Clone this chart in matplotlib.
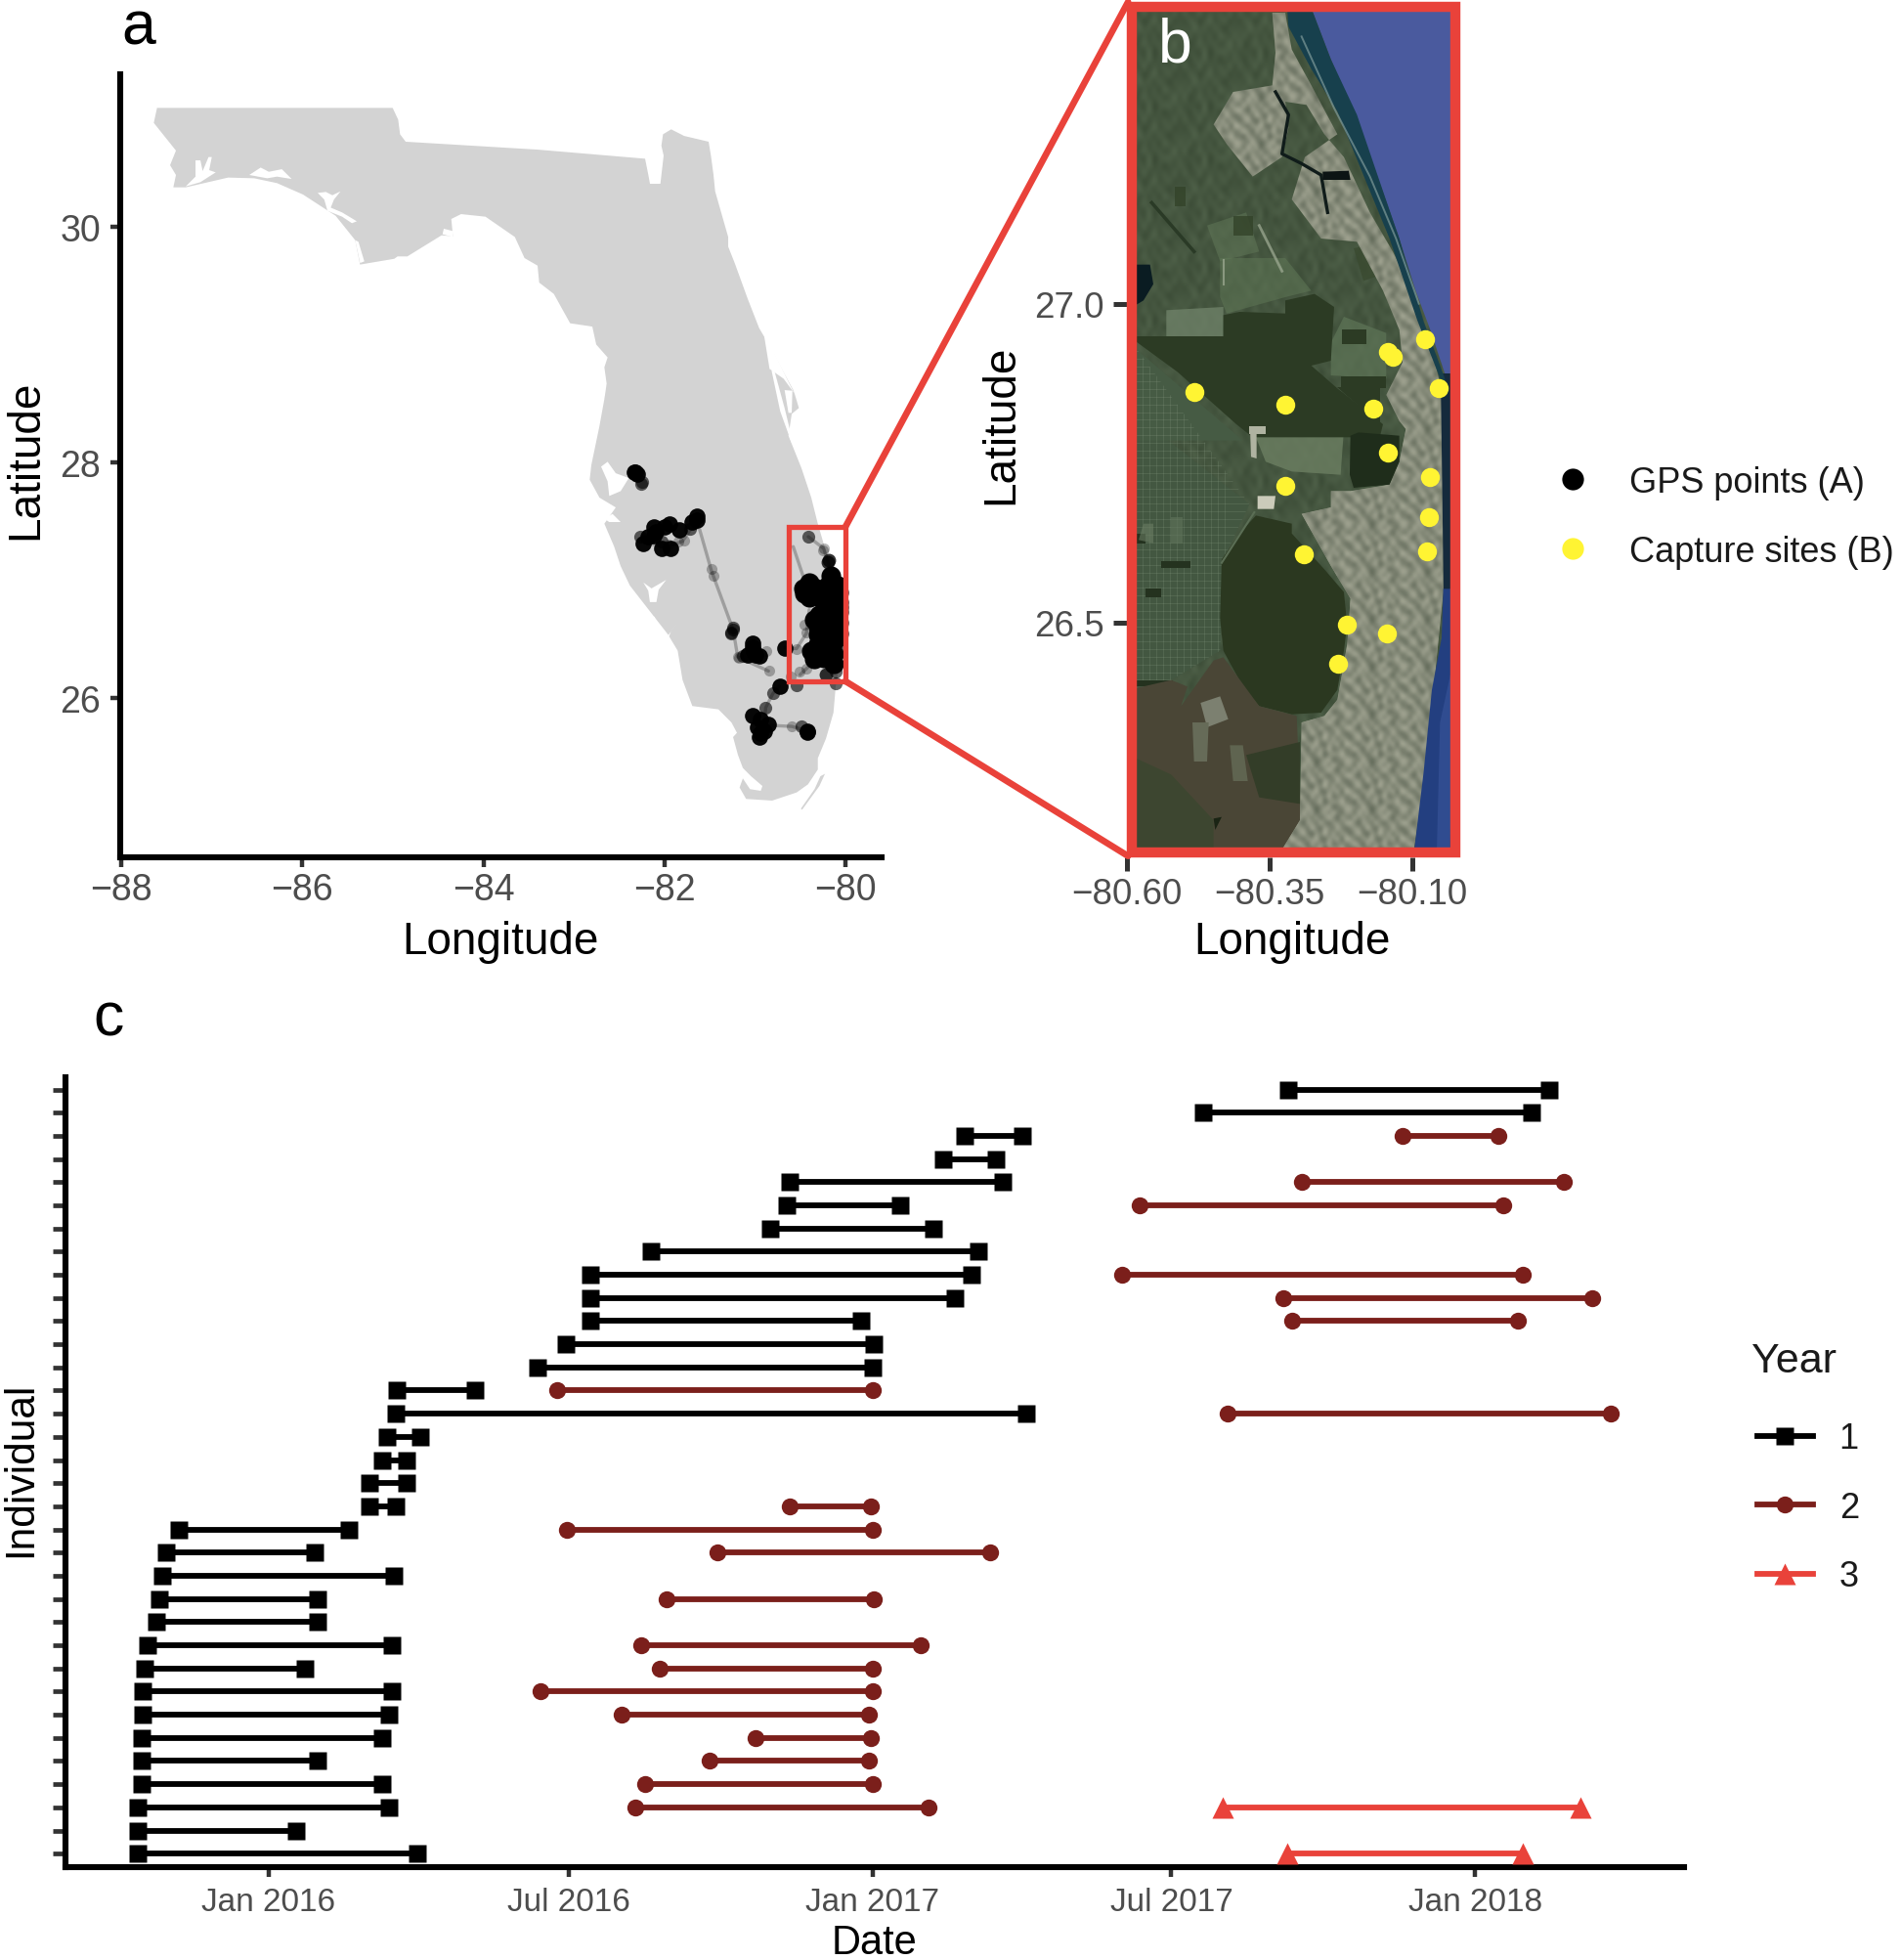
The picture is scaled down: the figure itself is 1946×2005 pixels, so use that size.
import numpy as np
import pandas as pd
import matplotlib
matplotlib.use("Agg")
import matplotlib.pyplot as plt
import matplotlib.dates as mdates
from matplotlib.colors import LinearSegmentedColormap
from matplotlib.lines import Line2D
from matplotlib.patches import Polygon, Rectangle, ConnectionPatch

plt.rcParams["font.family"] = ["Liberation Sans", "DejaVu Sans"]

W, H = 1946, 2006
RED = "#E9423A"
DARKRED = "#7B1F1B"
TICK = "#333333"
LABEL = "#4D4D4D"
YELLOW = "#FFF433"

# ---------------------------------------------------------------- data: map a
florida_lon = [-87.605, -85.002, -84.941, -84.92, -84.858, -83.40, -82.213, -82.177, -82.159, -82.044,
               -82.008, -82.033, -82.015, -81.925, -81.781, -81.511, -81.486, -81.457, -81.439, -81.295,
               -81.295, -81.223, -81.079, -80.953, -80.899, -80.575, -80.557, -80.514, -80.593, -80.629,
               -80.485, -80.377, -80.305, -80.16, -80.06, -80.03, -80.107, -80.132, -80.215, -80.305,
               -80.305, -80.413, -80.539, -80.809, -81.097, -81.169, -81.133, -81.054, -80.935, -80.917,
               -81.043, -81.133, -81.187, -81.241, -81.198, -81.259, -81.403, -81.691, -81.799, -81.853,
               -81.961, -82.381, -82.483, -82.555, -82.663, -82.537, -82.717, -82.825, -82.807, -82.717,
               -82.645, -82.663, -82.638, -82.663, -82.627, -82.753, -82.796, -83.041, -83.131, -83.221,
               -83.383, -83.401, -83.545, -83.652, -83.976, -84.246, -84.354, -84.336, -84.462, -84.84,
               -84.948, -84.984, -85.362, -85.416, -85.632, -85.992, -86.28, -86.532, -86.82, -87.288,
               -87.425, -87.396, -87.461, -87.396, -87.54, -87.641]
florida_lat = [31.007, 31.007, 30.907, 30.783, 30.72, 30.653, 30.576, 30.438, 30.363, 30.363,
               30.603, 30.686, 30.783, 30.825, 30.769, 30.72, 30.603, 30.438, 30.299, 29.912,
               29.83, 29.691, 29.387, 29.139, 29.069, 28.613, 28.572, 28.461, 28.411, 28.226,
               27.95, 27.701, 27.48, 27.10, 26.75, 26.45, 26.098, 25.877, 25.656, 25.49,
               25.394, 25.269, 25.2, 25.131, 25.145, 25.242, 25.319, 25.228, 25.214, 25.255,
               25.338, 25.408, 25.518, 25.67, 25.706, 25.794, 25.905, 25.933, 26.154, 26.403,
               26.541, 26.955, 27.12, 27.286, 27.48, 27.618, 27.701, 27.853, 27.977, 28.309,
               28.613, 28.53, 28.669, 28.807, 28.89, 29.0, 29.152, 29.18, 29.304, 29.429,
               29.525, 29.669, 29.733, 29.912, 30.084, 30.106, 30.065, 29.918, 29.926, 29.747,
               29.747, 29.727, 29.678, 29.885, 30.092, 30.272, 30.369, 30.41, 30.416, 30.333,
               30.333, 30.438, 30.521, 30.645, 30.783, 30.88]

keys_lon = [-80.226, -80.287, -80.478, -80.492, -80.341, -80.276]
keys_lat = [25.358, 25.255, 25.054, 25.062, 25.228, 25.338]

bays = [
    ([-87.18, -87.126, -87.101, -87.036, -87.0, -87.029, -86.957, -87.126, -87.288, -87.18],
     [30.562, 30.562, 30.471, 30.59, 30.59, 30.479, 30.46, 30.377, 30.341, 30.424]),
    ([-86.586, -86.46, -86.37, -86.226, -86.118, -86.28, -86.388],
     [30.438, 30.501, 30.465, 30.487, 30.404, 30.424, 30.41]),
    ([-85.83, -85.74, -85.668, -85.578, -85.65, -85.686, -85.56, -85.398, -85.452, -85.56, -85.722, -85.758],
     [30.286, 30.294, 30.266, 30.299, 30.23, 30.161, 30.12, 30.045, 30.029, 30.084, 30.134, 30.23]),
    ([-84.437, -84.336, -84.336, -84.451], [29.982, 29.962, 29.912, 29.935]),
    ([-85.416, -85.38, -85.315, -85.362], [29.885, 29.871, 29.705, 29.691]),
    ([-82.699, -82.627, -82.537, -82.393, -82.483, -82.609, -82.627],
     [27.964, 28.005, 27.908, 27.867, 27.756, 27.715, 27.839]),
    ([-82.663, -82.573, -82.483, -82.609], [27.521, 27.563, 27.494, 27.494]),
    ([-82.232, -82.142, -81.98, -82.063, -82.088, -82.16, -82.178],
     [26.981, 26.931, 27.003, 26.92, 26.815, 26.815, 26.912]),
    ([-82.16, -82.106, -82.052, -82.088], [26.691, 26.691, 26.498, 26.498]),
    ([-81.98, -81.818, -81.926, -81.962], [26.511, 26.677, 26.567, 26.498]),
    ([-80.816, -80.785, -80.672, -80.575, -80.59, -80.72], [28.779, 28.779, 28.461, 28.157, 28.157, 28.433]),
    ([-80.672, -80.586, -80.593, -80.629], [28.613, 28.608, 28.42, 28.42]),
    ([-80.896, -80.874, -80.611, -80.564, -80.683, -80.838], [29.067, 29.067, 28.655, 28.586, 28.71, 28.793]),
]

track_lons = [[-81.64, -81.48, -81.24, -81.19, -80.85],
              [-80.41, -80.24, -80.18],
              [-80.576, -80.468],
              [-80.73, -80.80, -80.88, -80.90],
              [-80.85, -80.59, -80.42],
              [-80.67, -80.54, -80.43, -80.40],
              [-80.50, -80.43, -80.30],
              [-82.27, -82.00, -81.80, -81.64]]
track_lats = [[27.51, 27.08, 26.58, 26.35, 26.23],
              [27.37, 27.27, 27.13],
              [27.285, 27.037],
              [26.10, 26.04, 25.92, 25.76],
              [25.77, 25.76, 25.72],
              [26.43, 26.42, 26.55, 26.75],
              [26.20, 26.25, 26.35],
              [27.33, 27.28, 27.33, 27.51]]

# GPS fixes outside the capture area
gps_lon = [-82.32, -82.30, -82.33, -82.12, -82.09, -82.12, -82.18, -82.23, -82.00, -81.94, -81.84,
           -82.03, -81.93, -81.69, -81.64, -81.64, -81.03, -81.08, -80.99, -81.03, -80.95, -81.01,
           -80.72, -81.03, -80.94, -80.85, -80.97, -80.90, -80.95, -80.94, -80.42, -80.42, -80.672]
gps_lat = [27.915, 27.90, 27.92, 27.45, 27.41, 27.38, 27.37, 27.31, 27.45, 27.48, 27.43,
           27.27, 27.27, 27.49, 27.51, 27.54, 26.47, 26.37, 26.37, 26.43, 26.36, 26.40,
           26.10, 25.85, 25.82, 25.78, 25.75, 25.72, 25.67, 25.70, 25.72, 25.71, 26.425]

# GPS fixes in the capture area
east_lon = [-80.467, -80.395, -80.323, -80.395, -80.449, -80.359,
            -80.161, -80.197, -80.089, -80.075, -80.125, -80.197, -80.075, -80.125, -80.075, -80.107,
            -80.075, -80.161, -80.287, -80.341, -80.233, -80.305, -80.197, -80.251, -80.125, -80.089,
            -80.179, -80.305, -80.377, -80.341, -80.269, -80.215, -80.125, -80.125, -80.161,
            -80.15, -80.09, -80.07, -80.22, -80.27, -80.10, -80.08, -80.20, -80.30, -80.18, -80.24]
east_lat = [26.928, 26.983, 26.928, 26.859, 26.886, 26.914,
            27.038, 26.955, 26.955, 26.90, 26.872, 26.872, 26.817, 26.789, 26.734, 26.693,
            26.637, 26.624, 26.707, 26.665, 26.651, 26.61, 26.554, 26.499, 26.485, 26.513,
            26.444, 26.458, 26.403, 26.333, 26.361, 26.403, 26.375, 26.292, 26.333,
            26.76, 26.84, 26.77, 26.90, 26.85, 26.58, 26.55, 26.72, 26.54, 26.43, 26.34]

small_lon = [-80.215, -80.197, -80.18]
small_lat = [26.201, 27.157, 27.17]

mid_lon = [-82.26, -82.25, -82.27, -82.03, -81.72, -81.26, -81.24, -81.13, -80.80, -80.88, -80.41,
           -80.107, -80.539, -80.107, -80.053, -81.241, -81.259, -80.49]
mid_lat = [27.815, 27.83, 27.37, 27.33, 27.44, 26.55, 26.58, 26.36, 26.04, 25.92, 27.37,
           26.223, 26.112, 26.126, 26.389, 26.596, 26.554, 25.76]

faint_lon = [-81.78, -81.85, -80.24, -80.251, -80.431, -80.539, -80.431, -80.503, -80.838, -81.475,
             -81.457, -80.593, -81.176, -80.874, -81.19, -80.60, -80.45, -81.95]
faint_lat = [27.34, 27.33, 27.27, 27.254, 26.25, 26.416, 26.554, 26.222, 26.236, 27.093,
             27.038, 25.76, 26.341, 26.397, 26.35, 26.18, 26.62, 27.30]

lon_ticks_a = [-88, -86, -84, -82, -80]
lat_ticks_a = [26, 28, 30]

# ---------------------------------------------------------------- data: map b
capture_lon = [-80.482, -80.323, -80.168, -80.143, -80.135, -80.077, -80.054, -80.143, -80.070,
               -80.071, -80.075, -80.323, -80.290, -80.214, -80.144, -80.230]
capture_lat = [26.861, 26.842, 26.835, 26.925, 26.917, 26.944, 26.868, 26.766, 26.728,
               26.665, 26.611, 26.714, 26.607, 26.497, 26.482, 26.435]
lon_ticks_b = [-80.60, -80.35, -80.10]
lat_ticks_b = [26.5, 27.0]

# ---------------------------------------------------------------- data: panel c
# Tracking periods, days since 2016-01-01; rows counted from the bottom.
year1_rows = list(range(1, 35))
year1_start = [-79, -79, -79, -77, -77, -77, -76, -76, -75, -73, -68, -66, -64, -62, -54, 61, 61,
               69, 72, 77, 78, 163, 180, 195, 195, 195, 232, 304, 314, 316, 409, 422, 566, 618]
year1_end = [90, 17, 73, 69, 30, 69, 73, 75, 22, 75, 30, 30, 76, 28, 49, 77, 84,
             84, 92, 459, 125, 366, 367, 359, 416, 426, 430, 403, 383, 445, 441, 457, 765, 776]
year2_rows = [3, 4, 5, 6, 7, 8, 9, 10, 12, 14, 15, 16, 20, 21, 24, 25, 26, 29, 30, 32]
year2_start = [222, 228, 267, 295, 214, 165, 237, 226, 241, 272, 181, 316, 581, 175, 620, 615, 517, 528, 626, 687]
year2_end = [400, 366, 364, 365, 364, 366, 366, 395, 367, 437, 366, 365, 813, 366, 757, 802, 760, 748, 785, 745]
year3_rows = [1, 3]
year3_start = [617, 578]
year3_end = [760, 795]
date_ticks = ["2016-01-01", "2016-07-01", "2017-01-01", "2017-07-01", "2018-01-01"]
date_labels = ["Jan 2016", "Jul 2016", "Jan 2017", "Jul 2017", "Jan 2018"]


def axpx(l, t, r, b):
    return fig.add_axes([l / W, 1 - b / H, (r - l) / W, (b - t) / H])


def fx(x):
    return x / W


def fy(y):
    return 1 - y / H


def day2num(days):
    return mdates.date2num(pd.Timestamp("2016-01-01") + pd.to_timedelta(np.asarray(days), unit="D"))


def style(ax, labelsize):
    for s in ("top", "right"):
        ax.spines[s].set_visible(False)
    for s in ("left", "bottom"):
        ax.spines[s].set_linewidth(4.4)
        ax.spines[s].set_color("black")
    ax.tick_params(length=7, width=3.2, color=TICK, labelcolor=LABEL, labelsize=labelsize)


fig = plt.figure(figsize=(W / 100, H / 100), dpi=100)

# ================================================================ panel a
axa = axpx(122.8, 77, 902, 877.5)
axa.set_xlim(-88.014, -79.6)
axa.set_ylim(24.654, 31.292)
style(axa, 27)
axa.add_patch(Polygon(np.column_stack([florida_lon, florida_lat]), fc="#D3D3D3", ec="none", zorder=1))
axa.add_patch(Polygon(np.column_stack([keys_lon, keys_lat]), fc="#D3D3D3", ec="none", zorder=1))
for bx, by in bays:
    axa.add_patch(Polygon(np.column_stack([bx, by]), fc="white", ec="none", zorder=2))
for tx, ty in zip(track_lons, track_lats):
    axa.plot(tx, ty, color="black", alpha=0.25, lw=2.4, zorder=3, solid_capstyle="round")
axa.plot(faint_lon, faint_lat, "o", color="black", alpha=0.28, ms=8, mec="none", zorder=4)
axa.plot(mid_lon, mid_lat, "o", color="black", alpha=0.6, ms=9.5, mec="none", zorder=4)
axa.plot(small_lon, small_lat, "o", color="black", alpha=0.8, ms=10, mec="none", zorder=4)
axa.plot(gps_lon, gps_lat, "o", color="black", alpha=0.97, ms=12, mec="none", zorder=4)
axa.plot(east_lon, east_lat, "o", color="black", ms=14.5, mec="none", zorder=4)
axa.add_patch(Rectangle((-80.626, 26.144), 0.626, 1.309, fc="none", ec=RED, lw=3.8, zorder=6, joinstyle="miter"))
axa.set_xticks(lon_ticks_a)
axa.set_xticklabels([f"\u2212{abs(v)}" for v in lon_ticks_a])
axa.set_yticks(lat_ticks_a)
axa.tick_params(axis="x", pad=4.5)
axa.tick_params(axis="y", pad=7)
axa.set_xlabel("Longitude", fontsize=33)
axa.set_ylabel("Latitude", fontsize=33)
axa.xaxis.set_label_coords(fx(512), fy(964), transform=fig.transFigure)
axa.yaxis.set_label_coords(fx(26), fy(470), transform=fig.transFigure)
axa.xaxis.label.set_va("center")
axa.yaxis.label.set_va("center")

# ================================================================ panel b
axb = axpx(1153, 3, 1493, 878)
xmin_b, xmax_b = -80.6, -80.6 + 340 / 584
ymin_b, ymax_b = 27 - (878 - 311.7) / 652, 27 - (3 - 311.7) / 652
axb.set_xlim(xmin_b, xmax_b)
axb.set_ylim(ymin_b, ymax_b)
for s in axb.spines.values():
    s.set_visible(False)
axb.tick_params(length=10, width=3.6, color=TICK, labelcolor=LABEL, labelsize=26.5)
axb.set_facecolor("#4C6047")


def z10(pts):
    p = np.asarray(pts, float)
    return np.column_stack([-80.5966 + p[:, 0] / 1752, 27.4704 - p[:, 1] / 1956])


def z11(pts):
    p = np.asarray(pts, float)
    return np.column_stack([-80.5966 + p[:, 0] / 1752, 26.8032 - p[:, 1] / 1956])


def poly(xy, color, z=1.0, alpha=1.0):
    pat = Polygon(xy, fc=color, ec="none", zorder=z, alpha=alpha)
    axb.add_patch(pat)
    return pat


extent_b = (xmin_b, xmax_b, ymin_b, ymax_b)

# blotchy vegetation
veg_tile = np.array([[.5, .2, .7, .4, .8, .3, .6, .1, .5, .35, .7],
                     [.8, .4, .3, .9, .2, .6, .4, .7, .3, .85, .2],
                     [.2, .7, .6, .1, .5, .9, .3, .5, .8, .15, .55],
                     [.6, .3, .9, .5, .7, .2, .8, .4, .1, .65, .4],
                     [.4, .8, .2, .6, .3, .7, .1, .9, .6, .3, .75],
                     [.9, .1, .5, .8, .4, .5, .7, .2, .4, .95, .25],
                     [.3, .6, .4, .2, .9, .1, .5, .8, .7, .45, .6]])
veg_cmap = LinearSegmentedColormap.from_list("veg", ["#2B3A27", "#5F7258"])
axb.imshow(np.tile(veg_tile, (16, 6)), extent=extent_b, aspect="auto", cmap=veg_cmap, vmin=0, vmax=1,
           interpolation="bicubic", zorder=0.5)

# west field grid
west_xy = z11([(0, -60), (370, 230), (290, 400), (280, 680), (130, 770), (0, 800)])
poly(west_xy, "#435741", 1)
poly(z10([(0, 1040), (350, 1340), (0, 1340)]), "#465B44", 1)
west_clip = Polygon(z11([(0, -280), (370, 230), (290, 400), (280, 680), (130, 770), (0, 800)]),
                    transform=axb.transData)
for lon in np.arange(-80.585, -80.42, 0.012):
    ln = axb.axvline(lon, color="#93A58D", lw=0.7, alpha=0.2, zorder=1.2)
    ln.set_clip_path(west_clip)
for lat in np.arange(26.35, 26.95, 0.012):
    ln = axb.axhline(lat, color="#93A58D", lw=0.7, alpha=0.2, zorder=1.2)
    ln.set_clip_path(west_clip)
for rect in [[(100, 405), (190, 405), (190, 425), (100, 425)], [(20, 770), (135, 770), (135, 790), (20, 790)],
             [(50, 490), (100, 490), (100, 515), (50, 515)], [(20, 320), (50, 320), (50, 350), (20, 350)]]:
    poly(z11(rect), "#24321F", 1.3)
poly(z11([(45, 290), (75, 290), (75, 350), (30, 340)]), "#6A7D63", 1.3, 0.6)
poly(z11([(130, 270), (165, 270), (165, 350), (130, 350)]), "#61755B", 1.3, 0.6)

# light fields
poly(z10([(115, 940), (290, 930), (290, 1020), (115, 1020)]), "#6E8168", 1.5, 0.8)
poly(z10([(280, 780), (480, 780), (560, 880), (480, 900), (300, 950), (280, 900)]), "#5F7756", 1.4, 0.55)
poly(z10([(620, 1040), (660, 960), (790, 1010), (790, 1150), (620, 1140)]), "#5E7557", 1.4, 0.7)
poly(z10([(240, 680), (360, 640), (400, 760), (280, 790)]), "#627959", 1.4, 0.5)
poly(z11([(380, 0), (660, 0), (650, 140), (500, 130), (420, 100)]), "#6C7F62", 1.5, 0.8)
poly(z10([(400, 1320), (400, 1290), (700, 1290), (700, 1320)]), "#6C7F62", 1.5, 0.8)

# dark forests
forest = "#2C3B24"
poly(z10([(0, 1020), (115, 1020), (290, 1020), (290, 955), (340, 945), (480, 950), (480, 910), (570, 890),
          (630, 930), (620, 1095), (560, 1110), (640, 1180), (780, 1290), (770, 1330), (380, 1330),
          (330, 1290), (150, 1130)]), forest, 2)
poly(z10([(655, 1000), (730, 1000), (730, 1045), (655, 1045)]), forest, 2)
poly(z10([(650, 1142), (790, 1142), (790, 1180), (650, 1180)]), forest, 2)
poly(z10([(640, 1175), (770, 1175), (770, 1290)]), forest, 2)
poly(z10([(690, 750), (740, 740), (780, 830), (720, 850)]), "#3A4A30", 2, 0.8)
poly(z10([(320, 650), (380, 650), (380, 710), (320, 710)]), "#334329", 2, 0.8)
poly(z10([(140, 560), (175, 560), (175, 620), (140, 620)]), "#334329", 2, 0.8)
poly(z11([(390, 265), (500, 290), (500, 320), (600, 430), (660, 500), (670, 600), (660, 680), (640, 800),
          (590, 870), (500, 875), (400, 850), (350, 790), (290, 680), (280, 580), (285, 400), (340, 320)]),
     "#2B3820", 2)

# southwest marsh
poly(z11([(0, 800), (130, 770), (180, 790), (160, 850), (260, 710), (290, 700), (400, 850), (515, 880),
          (530, 1210), (470, 1290), (0, 1290)]), "#4A4636", 2.2)
poly(z11([(0, 1000), (130, 1060), (260, 1200), (260, 1290), (0, 1290)]), "#3D4630", 2.3)
poly(z11([(360, 1000), (525, 960), (525, 1150), (400, 1130)]), "#333D28", 2.3)
poly(z11([(220, 840), (280, 820), (305, 890), (240, 915)]), "#7C8070", 2.4)
poly(z11([(195, 900), (245, 900), (240, 1020), (200, 1020)]), "#666B58", 2.4)
poly(z11([(310, 970), (350, 970), (365, 1080), (320, 1080)]), "#5F6450", 2.4)
poly(z11([(260, 1195), (285, 1190), (265, 1230)]), "#1A2414", 2.5)

# urban belts with a hand-typed speckle tile
urban_tile = np.array([[.7, .3, .9, .5, .8, .2, .6, .75, .4, .9, .55, .3, .7],
                       [.35, .85, .5, .65, .4, .8, .3, .55, .95, .5, .2, .8, .45],
                       [.9, .45, .2, .8, .6, .35, .9, .45, .25, .7, .65, .4, .85],
                       [.5, .75, .65, .3, .95, .55, .2, .8, .6, .35, .9, .5, .25],
                       [.25, .6, .9, .45, .15, .7, .5, .95, .4, .8, .3, .75, .6],
                       [.8, .4, .3, .75, .6, .9, .35, .25, .7, .55, .85, .2, .95],
                       [.55, .95, .6, .2, .85, .4, .7, .5, .9, .3, .45, .65, .35],
                       [.4, .2, .8, .55, .3, .65, .85, .15, .5, .75, .6, .9, .5],
                       [.75, .6, .35, .9, .5, .25, .45, .7, .85, .2, .4, .55, .8]])
urban_cmap = LinearSegmentedColormap.from_list("urban", ["#394434", "#7C8271", "#C6C6B2"])
urban_img = axb.imshow(np.tile(urban_tile, (18, 6)), extent=extent_b, aspect="auto", cmap=urban_cmap,
                       vmin=0, vmax=1, interpolation="bicubic", zorder=3)
urban_south = poly(z11([(530, 260), (620, 420), (680, 520), (670, 660), (640, 830), (600, 880), (530, 900),
                        (525, 1200), (470, 1290), (875, 1290), (910, 1050), (965, 500), (965, 40), (850, 0),
                        (830, 100), (800, 170), (680, 190), (620, 190), (620, 240)]),
                   "#8E9482", 2.9)
urban_clip = Polygon(np.vstack([
    z11([(530, 260), (620, 420), (680, 520), (670, 660), (640, 830), (600, 880), (530, 900), (525, 1200),
         (470, 1290), (875, 1290), (910, 1050), (965, 500), (965, 40)]),
    z10([(975, 1250), (930, 1060), (880, 900), (810, 760), (740, 640), (660, 470), (600, 400), (545, 310),
         (480, 300), (490, 380), (470, 470), (380, 530), (300, 430), (260, 370), (320, 270), (440, 250),
         (450, 150), (440, 27), (480, 27), (500, 140), (560, 250), (640, 400), (540, 470), (500, 600),
         (590, 720), (700, 730), (780, 880), (830, 1000), (840, 1100), (790, 1200), (830, 1280)]),
    z11([(850, 0), (830, 100), (800, 170), (680, 190), (620, 190), (620, 240)])]),
    transform=axb.transData)
urban_img.set_clip_path(urban_clip)
urban_south.set_clip_path(urban_clip)

# dark pond in the urban belt, forest block near the coast
poly(z11([(680, 20), (705, 10), (830, 20), (830, 100), (800, 170), (690, 180), (678, 140)]), "#1F2D1B", 3.2)
poly(z11([(395, 205), (450, 205), (445, 245), (395, 245)]), "#CBCBBA", 3.2)
poly(z11([(372, 0), (392, 0), (392, 90), (375, 85)]), "#AFB3A1", 3.2)
poly(z10([(370, 1295), (420, 1295), (420, 1320), (370, 1320)]), "#AFB3A1", 3.2)

# lake and rivers
poly(z10([(20, 800), (65, 800), (75, 860), (45, 910), (20, 925)]), "#0A1C22", 3.3)
axb.plot(*z10([(450, 270), (490, 340), (470, 460), (530, 490), (590, 525), (610, 640)]).T, color="#101C1A", lw=2.4,
         zorder=3.3)
poly(z10([(595, 515), (675, 512), (680, 540), (595, 540)]), "#0C1414", 3.3)
axb.plot(*z10([(400, 680), (470, 820)]).T, color="#A2AE97", lw=2, alpha=0.7, zorder=3.3)
axb.plot(*z10([(292, 785), (292, 860)]).T, color="#A2AE97", lw=1.5, alpha=0.7, zorder=3.3)
axb.plot(*z10([(70, 610), (200, 760)]).T, color="#2A3A26", lw=2.5, zorder=1.6)
axb.plot(*z11([(285, 410), (385, 255)]).T, color="#5B6E55", lw=1.5, zorder=2.1)

# ocean and lagoon
poly(z10([(555, 0), (1020, 0), (1020, 1180), (975, 1150), (925, 1000), (880, 880), (830, 720), (770, 550),
          (690, 330), (620, 170)]), "#4A5A9E", 4)
poly(z10([(485, 0), (555, 0), (620, 170), (700, 340), (775, 560), (830, 720), (905, 975), (970, 1150),
          (975, 1200), (885, 970), (800, 720), (730, 550), (640, 330), (560, 200), (490, 70)]), "#17404D", 4.1)
axb.plot(*z10([(530, 100), (630, 320), (740, 530), (820, 720), (890, 920)]).T, color="#7E9A9A", lw=1.4, alpha=0.7,
         zorder=4.2)
poly(z11([(958, -170), (1020, -170), (1020, 500), (965, 500)]), "#152A3C", 4)
poly(z11([(965, 490), (1020, 490), (1020, 1300), (875, 1300), (905, 1050), (930, 800), (960, 640)]), "#233F80", 4)
poly(z11([(1020, 600), (1020, 800), (990, 1100), (985, 1300), (945, 1300), (955, 900)]), "#304C90", 4.1)

axb.plot(capture_lon, capture_lat, "o", color=YELLOW, ms=14, mec="none", zorder=5)
axb.add_patch(Rectangle((4.5 / 340, 5 / 875), 331 / 340, 865 / 875, transform=axb.transAxes, fc="none", ec=RED,
                        lw=7.5, zorder=6, joinstyle="miter", clip_on=False))
axb.set_xlim(xmin_b, xmax_b)
axb.set_ylim(ymin_b, ymax_b)
axb.set_xticks(lon_ticks_b)
axb.set_xticklabels([f"\u2212{abs(v):.2f}" for v in lon_ticks_b])
axb.set_yticks(lat_ticks_b)
axb.set_yticklabels([f"{v:.1f}" for v in lat_ticks_b])
axb.tick_params(axis="x", pad=4.5)
axb.tick_params(axis="y", pad=7)
axb.set_xlabel("Longitude", fontsize=33)
axb.set_ylabel("Latitude", fontsize=33)
axb.xaxis.set_label_coords(fx(1322), fy(964), transform=fig.transFigure)
axb.yaxis.set_label_coords(fx(1024), fy(434), transform=fig.transFigure)
axb.xaxis.label.set_va("center")
axb.yaxis.label.set_va("center")

# zoom connectors
for (lon_a, lat_a, lat_b) in [(-80.0, 27.453, ymax_b), (-80.0, 26.144, ymin_b + 0.002)]:
    fig.add_artist(ConnectionPatch(xyA=(lon_a, lat_a), coordsA=axa.transData,
                                   xyB=(xmin_b + 0.002, lat_b), coordsB=axb.transData,
                                   color=RED, lw=4.8, zorder=7))

# map legend
map_handles = [Line2D([], [], ls="none", marker="o", color="black", ms=16, mec="none"),
               Line2D([], [], ls="none", marker="o", color=YELLOW, ms=16, mec="none")]
fig.legend(map_handles, ["GPS points (A)", "Capture sites (B)"], loc="upper left",
           bbox_to_anchor=(fx(1587.5), fy(477)), bbox_transform=fig.transFigure, frameon=False, fontsize=26,
           labelspacing=1.0, handlelength=1.2, handletextpad=1.0, borderpad=0, borderaxespad=0,
           labelcolor="#1A1A1A")

# ================================================================ panel c
axc = axpx(66.5, 1103, 1723, 1911)
style(axc, 24)
axc.set_ylim(0.417, 34.53)
series = [(year1_rows, year1_start, year1_end, "black", "s", 13.5, "1"),
          (year2_rows, year2_start, year2_end, DARKRED, "o", 12.5, "2"),
          (year3_rows, year3_start, year3_end, RED, "^", 16, "3")]
handles = []
for rows, starts, ends, col, mk, ms, name in series:
    x0 = day2num(starts)
    x1 = day2num(ends)
    axc.hlines(rows, x0, x1, color=col, lw=4.2, zorder=3)
    axc.plot(np.r_[x0, x1], np.r_[rows, rows], ls="none", marker=mk, color=col, ms=ms, mec="none", zorder=4,
             clip_on=False)
    handles.append(Line2D([], [], color=col, lw=4.2, marker=mk, ms=ms, mec="none", label=name))
axc.set_xlim(day2num([-123.2])[0], day2num([857.6])[0])
axc.set_xticks(mdates.date2num(pd.to_datetime(date_ticks)))
axc.set_xticklabels(date_labels)
axc.set_yticks(range(1, 35))
axc.tick_params(axis="y", labelleft=False, length=9.5, width=3.4)
axc.tick_params(axis="x", pad=7.5)
axc.set_xlabel("Date", fontsize=30)
axc.set_ylabel("Individual", fontsize=30.5)
axc.xaxis.set_label_coords(fx(895), fy(1988), transform=fig.transFigure)
axc.yaxis.set_label_coords(fx(21), fy(1503), transform=fig.transFigure)
axc.xaxis.label.set_va("center")
axc.yaxis.label.set_va("center")

leg = fig.legend(handles=handles, title="Year", loc="upper left", bbox_to_anchor=(fx(1792), fy(1373)),
                 bbox_transform=fig.transFigure, frameon=False, fontsize=26, title_fontsize=31,
                 labelspacing=0.98, handlelength=1.58, handletextpad=0.75, borderpad=0, borderaxespad=0,
                 alignment="left", labelcolor="#1A1A1A")
leg.get_title().set_color("#1A1A1A")
leg._legend_handle_box.pad = 4
leg._legend_box.sep = 26.5

# ================================================================ panel letters
fig.text(fx(142), fy(46), "a", fontsize=45, ha="center", va="baseline", color="black")
fig.text(fx(1202), fy(63), "b", fontsize=45, ha="center", va="baseline", color="white", zorder=10)
fig.text(fx(111), fy(1060), "c", fontsize=45, ha="center", va="baseline", color="black")

fig.savefig("out.png", dpi=100, facecolor="white")
